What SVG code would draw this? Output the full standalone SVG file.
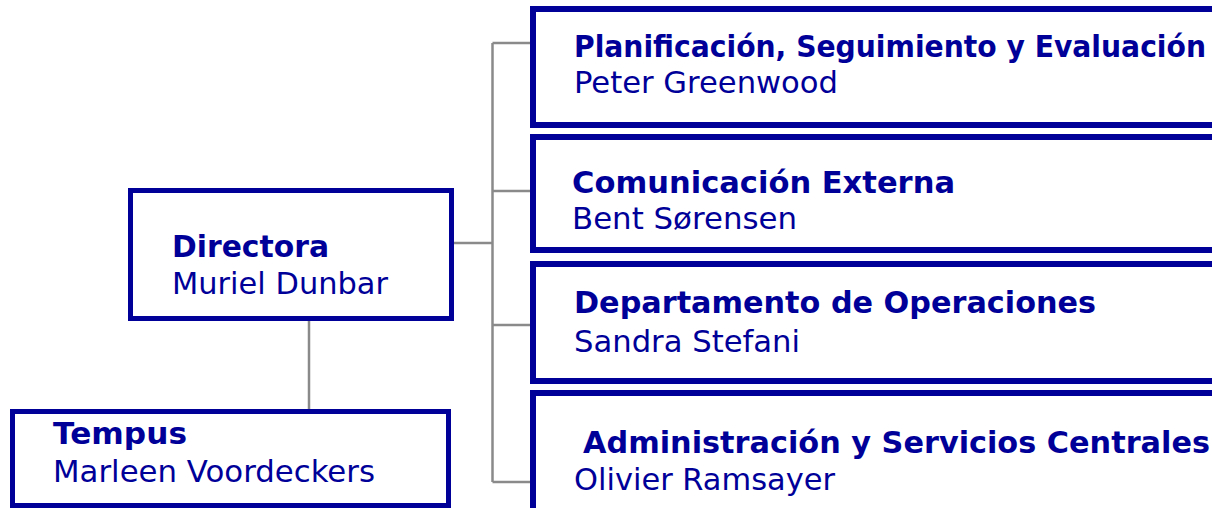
<svg xmlns="http://www.w3.org/2000/svg" width="1212" height="508" viewBox="0 0 1212 508">
<style>
.box{fill:#fff;stroke:#000099;stroke-width:5}
.rbox{fill:#fff;stroke:#000099;stroke-width:6}
.t{font-family:"DejaVu Sans","Verdana",sans-serif;font-size:30px;fill:#000099}
.b{font-weight:bold}
.c{stroke:#8a8a8a;stroke-width:2.5;fill:none}
</style>
<rect width="1212" height="508" fill="#fff"/>
<g id="connectors">
<path class="c" d="M492.5 43V482"/>
<path class="c" d="M492.5 43H531M492.5 191H531M492.5 325H531M492.5 482H531"/>
<path class="c" d="M454 243H492.5"/>
<path class="c" d="M309 321V409"/>
</g>
<g id="directora">
<rect class="box" x="130.5" y="190.5" width="321" height="128"/>
<text class="t b" x="172" y="257" textLength="157" lengthAdjust="spacingAndGlyphs">Directora</text>
<text class="t" x="172" y="294" textLength="216" lengthAdjust="spacingAndGlyphs">Muriel Dunbar</text>
</g>
<g id="tempus">
<rect class="box" x="12.5" y="411.5" width="436" height="94"/>
<text class="t b" x="53" y="444" textLength="134" lengthAdjust="spacingAndGlyphs">Tempus</text>
<text class="t" x="53" y="482" textLength="322" lengthAdjust="spacingAndGlyphs">Marleen Voordeckers</text>
</g>
<g id="planificacion">
<rect class="rbox" x="533" y="9" width="700" height="116"/>
<text class="t b" x="574" y="57" textLength="632" lengthAdjust="spacingAndGlyphs">Planificación, Seguimiento y Evaluación</text>
<text class="t" x="574" y="93" textLength="264" lengthAdjust="spacingAndGlyphs">Peter Greenwood</text>
</g>
<g id="comunicacion">
<rect class="rbox" x="533" y="137" width="700" height="113"/>
<text class="t b" x="572" y="193" textLength="383" lengthAdjust="spacingAndGlyphs">Comunicación Externa</text>
<text class="t" x="572" y="229" textLength="225" lengthAdjust="spacingAndGlyphs">Bent Sørensen</text>
</g>
<g id="operaciones">
<rect class="rbox" x="533" y="264" width="700" height="117"/>
<text class="t b" x="574" y="313" textLength="522" lengthAdjust="spacingAndGlyphs">Departamento de Operaciones</text>
<text class="t" x="574" y="352" textLength="226" lengthAdjust="spacingAndGlyphs">Sandra Stefani</text>
</g>
<g id="administracion">
<rect class="rbox" x="533" y="393" width="700" height="140"/>
<text class="t b" x="583" y="453" textLength="627" lengthAdjust="spacingAndGlyphs">Administración y Servicios Centrales</text>
<text class="t" x="574" y="490" textLength="261" lengthAdjust="spacingAndGlyphs">Olivier Ramsayer</text>
</g>
</svg>
